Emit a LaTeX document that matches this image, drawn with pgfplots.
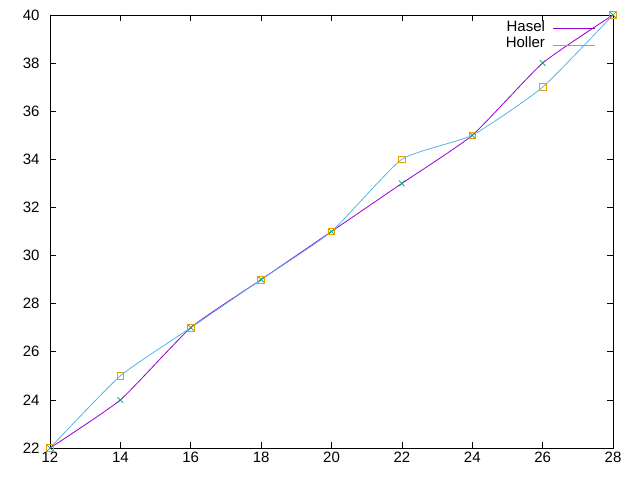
\documentclass[border=0pt]{standalone}
\usepackage{pgfplots}
\pgfplotsset{compat=1.18}
\usepackage{fontspec}
\setmainfont{Liberation Sans}
\definecolor{cpurple}{HTML}{9400D3}
\definecolor{cblue}{HTML}{56B4E9}
\definecolor{cgreen}{HTML}{009E73}
\definecolor{corange}{HTML}{E69F00}
\begin{document}
\begin{tikzpicture}
\begin{axis}[
  scale only axis,
  width=563bp, height=433bp,
  xmin=12, xmax=28, ymin=22, ymax=40,
  xtick={12,14,...,28}, ytick={22,24,...,40},
  tick align=inside,
  major tick length=6bp,
  tick style={black, line width=0.6bp},
  axis line style={black, line width=0.8bp},
  ticklabel style={font=\fontsize{15bp}{17bp}\selectfont},
  xticklabel style={yshift=-1bp},
  yticklabel style={xshift=-7bp},
  /pgf/number format/assume math mode=true,
  legend style={draw=none, fill=none, at={(1,1)}, anchor=north east,
    xshift=-17bp, yshift=-5bp,
    font=\fontsize{15bp}{17bp}\selectfont, row sep=0bp, inner sep=0pt,
    nodes={inner sep=0pt, text height=11bp, text depth=5.6bp}},
  legend cell align=right,
  legend plot pos=right,
  legend image code/.code={\path (0bp,0bp); \draw[#1] (8bp,0bp) -- (50bp,0bp);},
]
\addplot[cpurple, line width=0.8bp, smooth, tension=0.3] coordinates {
 (12,22) (14,24) (16,27) (18,29) (20,31) (22,33) (24,35) (26,38) (28,40)};
\addlegendentry{Hasel}
\addplot[cblue, line width=0.8bp, smooth, tension=0.3] coordinates {
 (12,22) (14,25) (16,27) (18,29) (20,31) (22,34) (24,35) (26,37) (28,40)};
\addlegendentry{Holler}
\addplot[only marks, mark=x, mark size=4bp, cgreen, line width=0.7bp, forget plot] coordinates {
 (12,22) (14,24) (16,27) (18,29) (20,31) (22,33) (24,35) (26,38) (28,40)};
\addplot[only marks, mark=square, mark size=3.3bp, corange, line width=0.8bp, forget plot] coordinates {
 (12,22) (14,25) (16,27) (18,29) (20,31) (22,34) (24,35) (26,37) (28,40)};
\end{axis}
\pgfresetboundingbox
\useasboundingbox (-50bp,-32bp) rectangle (590bp,448bp);
\end{tikzpicture}
\end{document}
